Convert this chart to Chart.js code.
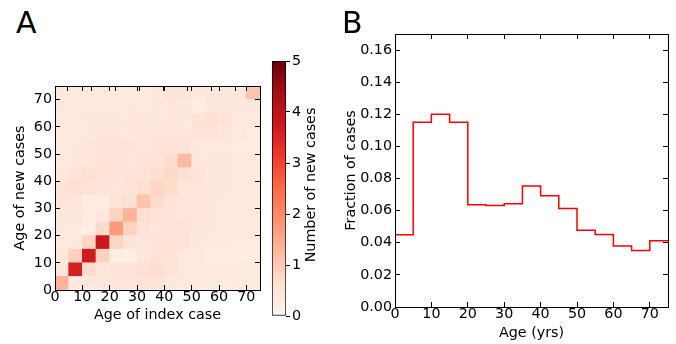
<!DOCTYPE html>
<html>
<head>
<meta charset="utf-8">
<script src="https://cdn.jsdelivr.net/npm/chart.js@4.4.0/dist/chart.umd.min.js"></script>
<style>
  html, body { margin: 0; padding: 0; background: #fff; }
  #wrap { position: relative; width: 676px; height: 344px; overflow: hidden; font-family: "DejaVu Sans", sans-serif; color: #000; }
  canvas { position: absolute; top: 0; }
  #heatmap { z-index: 1; }
  #heatFrame { z-index: 10; }
  .panel-label { position: absolute; font-size: 30px; line-height: 30px; }
  #cbTitle { position: absolute; width: 200px; height: 16px; line-height: 16px; font-size: 14.3px; text-align: center; white-space: nowrap; transform: rotate(-90deg); }
</style>
</head>
<body>
<div id="wrap">
  <canvas id="heatmap" width="270" height="344" style="left:0px"></canvas>
  <canvas id="heatFrame" width="270" height="344" style="left:0px"></canvas>
  <canvas id="colorbar" width="78" height="344" style="left:262px"></canvas>
  <canvas id="histogram" width="336" height="344" style="left:340px"></canvas>
  <div class="panel-label" style="left:16px; top:8px">A</div>
  <div class="panel-label" style="left:342px; top:8px">B</div>
  <div id="cbTitle" style="left:210px; top:177px">Number of new cases</div>
</div>

<script>
// Bordes izquierdos de los grupos de edad (años)
const AGE_BINS = [0, 5, 10, 15, 20, 25, 30, 35, 40, 45, 50, 55, 60, 65, 70];
const AGE_MAX = 75;
const AGE_TICKS = [0, 10, 20, 30, 40, 50, 60, 70];

// Casos nuevos: fila = edad del caso nuevo (0-5 primero), columna = edad del caso índice
const NEW_CASES = [
  [1.35, 0.35, 0.40, 0.40, 0.45, 0.45, 0.50, 0.50, 0.40, 0.35, 0.35, 0.35, 0.30, 0.35, 0.35],
  [0.45, 3.60, 0.70, 0.45, 0.50, 0.55, 0.60, 0.65, 0.55, 0.35, 0.35, 0.35, 0.35, 0.35, 0.35],
  [0.40, 0.90, 3.70, 0.85, 0.25, 0.25, 0.40, 0.55, 0.50, 0.35, 0.35, 0.30, 0.30, 0.30, 0.30],
  [0.35, 0.40, 0.80, 3.75, 0.80, 0.50, 0.45, 0.55, 0.50, 0.50, 0.40, 0.35, 0.35, 0.30, 0.30],
  [0.35, 0.35, 0.30, 0.70, 1.75, 0.85, 0.50, 0.45, 0.50, 0.50, 0.45, 0.40, 0.35, 0.35, 0.35],
  [0.40, 0.40, 0.30, 0.40, 0.85, 1.35, 0.65, 0.50, 0.50, 0.45, 0.45, 0.40, 0.35, 0.35, 0.35],
  [0.45, 0.45, 0.30, 0.30, 0.50, 0.60, 1.10, 0.70, 0.50, 0.45, 0.45, 0.40, 0.35, 0.35, 0.35],
  [0.50, 0.60, 0.55, 0.50, 0.45, 0.50, 0.65, 0.80, 0.70, 0.45, 0.45, 0.40, 0.40, 0.35, 0.35],
  [0.40, 0.55, 0.60, 0.55, 0.50, 0.50, 0.50, 0.65, 0.75, 0.65, 0.50, 0.40, 0.40, 0.35, 0.35],
  [0.35, 0.40, 0.45, 0.50, 0.50, 0.45, 0.50, 0.55, 0.70, 1.25, 0.45, 0.40, 0.40, 0.35, 0.35],
  [0.35, 0.40, 0.45, 0.50, 0.50, 0.50, 0.45, 0.50, 0.55, 0.50, 0.40, 0.35, 0.35, 0.30, 0.30],
  [0.35, 0.35, 0.40, 0.45, 0.45, 0.40, 0.45, 0.45, 0.45, 0.45, 0.50, 0.50, 0.45, 0.35, 0.30],
  [0.35, 0.35, 0.40, 0.40, 0.40, 0.45, 0.40, 0.40, 0.45, 0.40, 0.55, 0.60, 0.50, 0.35, 0.35],
  [0.35, 0.35, 0.35, 0.35, 0.35, 0.40, 0.35, 0.40, 0.45, 0.40, 0.25, 0.40, 0.45, 0.40, 0.40],
  [0.35, 0.35, 0.35, 0.35, 0.35, 0.35, 0.30, 0.40, 0.50, 0.50, 0.40, 0.40, 0.40, 0.40, 1.10],
];
const COUNT_MAX = 5;
const COUNT_TICKS = [0, 1, 2, 3, 4, 5];

// Fracción de casos por grupo de edad
const CASE_FRACTION = [0.045, 0.115, 0.120, 0.115, 0.0636, 0.0632, 0.0643, 0.0753, 0.0693, 0.0613, 0.0478, 0.0451, 0.038, 0.0352, 0.0413];
const FRACTION_MAX = 0.17;
const FRACTION_TICKS = [0, 0.02, 0.04, 0.06, 0.08, 0.10, 0.12, 0.14, 0.16];

// Mapa de color "Reds"
const REDS = ["#fff5f0", "#fee0d2", "#fcbba1", "#fc9272", "#fb6a4a", "#ef3b2c", "#cb181d", "#a50f15", "#67000d"];

Chart.defaults.font.family = "'DejaVu Sans', sans-serif";
Chart.defaults.font.size = 14.3;
Chart.defaults.color = "#000";
Chart.defaults.animation = false;
Chart.defaults.plugins.legend.display = false;
Chart.defaults.plugins.tooltip.enabled = false;

// Interpolar un valor dentro del mapa de color
function redsColor(value) {
  const t = Math.max(0, Math.min(1, value / COUNT_MAX)) * (REDS.length - 1);
  const i = Math.min(Math.floor(t), REDS.length - 2);
  const f = t - i;
  const a = REDS[i], b = REDS[i + 1];
  const rgb = [1, 3, 5].map((k) => {
    const ca = parseInt(a.substr(k, 2), 16);
    const cb = parseInt(b.substr(k, 2), 16);
    return Math.round(ca + (cb - ca) * f);
  });
  return "rgb(" + rgb.join(",") + ")";
}

// Eje con marco negro y marcas hacia adentro (estilo matplotlib)
function frameAxis(position, min, max, tickValues, size, extra) {
  return Object.assign({
    type: "linear",
    position: position,
    min: min,
    max: max,
    afterBuildTicks: (scale) => {
      scale.ticks = tickValues.map((v) => ({ value: v }));
    },
    afterFit: (scale) => {
      if (scale.isHorizontal()) scale.height = size;
      else scale.width = size;
    },
    grid: { drawOnChartArea: false, offset: false, tickLength: -5, color: "#000", tickColor: "#000", tickWidth: 1, z: 1 },
    border: { display: true, color: "#000", width: 1, z: 1 },
    ticks: { display: false },
  }, extra || {});
}

function tickLabels(padding, formatter) {
  return {
    display: true,
    padding: padding,
    autoSkip: false,
    maxRotation: 0,
    callback: formatter || ((v) => v),
  };
}

// Panel A: mapa de calor
const binWidth = AGE_BINS[1] - AGE_BINS[0];
const heatDatasets = NEW_CASES.map((row, j) => ({
  data: row.map((v, i) => ({ x: AGE_BINS[i] + binWidth / 2, y: [AGE_BINS[j], AGE_BINS[j] + binWidth] })),
  backgroundColor: row.map(redsColor),
  borderWidth: 0,
  grouped: false,
  barPercentage: 1,
  categoryPercentage: 1,
}));

new Chart(document.getElementById("heatmap"), {
  type: "bar",
  data: { datasets: heatDatasets },
  options: {
    responsive: false,
    devicePixelRatio: 1,
    scales: {
      x: frameAxis("bottom", 0, AGE_MAX, AGE_TICKS, 54, {
        offset: false,
        ticks: tickLabels(4),
        title: { display: true, text: "Age of index case", padding: { top: 0, bottom: 20 } },
      }),
      x2: frameAxis("top", 0, AGE_MAX, AGE_TICKS, 86),
      y: frameAxis("left", 0, AGE_MAX, AGE_TICKS, 55, {
        ticks: tickLabels(8),
        title: { display: true, text: "Age of new cases", padding: { top: 12, bottom: 0 } },
      }),
      y2: frameAxis("right", 0, AGE_MAX, AGE_TICKS, 10),
    },
  },
});

// Marco y marcas del panel A en un lienzo superpuesto (por encima de las celdas)
new Chart(document.getElementById("heatFrame"), {
  type: "line",
  data: { datasets: [{ data: [], pointRadius: 0 }] },
  options: {
    responsive: false,
    devicePixelRatio: 1,
    scales: {
      x: frameAxis("bottom", 0, AGE_MAX, AGE_TICKS, 54),
      x2: frameAxis("top", 0, AGE_MAX, AGE_TICKS, 86),
      y: frameAxis("left", 0, AGE_MAX, AGE_TICKS, 55),
      y2: frameAxis("right", 0, AGE_MAX, AGE_TICKS, 10),
    },
  },
});

// Barra de color
new Chart(document.getElementById("colorbar"), {
  type: "bar",
  data: {
    labels: [""],
    datasets: [{
      data: [[0, COUNT_MAX]],
      backgroundColor: (ctx) => {
        const chart = ctx.chart;
        if (!chart.chartArea) return REDS[0];
        const y = chart.scales.y;
        const g = chart.ctx.createLinearGradient(0, y.getPixelForValue(0), 0, y.getPixelForValue(COUNT_MAX));
        REDS.forEach((c, i) => g.addColorStop(i / (REDS.length - 1), c));
        return g;
      },
      borderColor: "#000",
      borderWidth: 1,
      borderSkipped: false,
      barPercentage: 1,
      categoryPercentage: 1,
    }],
  },
  options: {
    responsive: false,
    devicePixelRatio: 1,
    layout: { padding: { left: 10, top: 61, bottom: 28, right: 0 } },
    scales: {
      x: { display: false },
      y: {
        position: "right",
        min: 0,
        max: COUNT_MAX,
        afterBuildTicks: (scale) => {
          scale.ticks = COUNT_TICKS.map((v) => ({ value: v }));
        },
        afterFit: (scale) => { scale.width = 54; },
        grid: { drawOnChartArea: false, tickLength: 4, tickColor: "#000", tickWidth: 1 },
        border: { display: false },
        ticks: { padding: 2 },
      },
    },
  },
});

// Panel B: histograma escalonado
const stepPoints = AGE_BINS.map((edge, i) => ({ x: edge, y: CASE_FRACTION[i] }));
stepPoints.push({ x: AGE_MAX, y: CASE_FRACTION[CASE_FRACTION.length - 1] });

new Chart(document.getElementById("histogram"), {
  type: "line",
  data: {
    datasets: [{
      data: stepPoints,
      stepped: true,
      borderColor: "#ff0000",
      borderWidth: 1.5,
      pointRadius: 0,
      fill: false,
    }],
  },
  options: {
    responsive: false,
    devicePixelRatio: 1,
    scales: {
      x: frameAxis("bottom", 0, AGE_MAX, AGE_TICKS, 37, {
        ticks: tickLabels(4),
        title: { display: true, text: "Age (yrs)", padding: { top: 0, bottom: 2 } },
      }),
      x2: frameAxis("top", 0, AGE_MAX, AGE_TICKS, 34),
      y: frameAxis("left", 0, FRACTION_MAX, FRACTION_TICKS, 55, {
        ticks: tickLabels(8, (v) => v.toFixed(2)),
        title: { display: true, text: "Fraction of cases", padding: { top: 3, bottom: 0 } },
      }),
      y2: frameAxis("right", 0, FRACTION_MAX, FRACTION_TICKS, 8),
    },
  },
});
</script>
</body>
</html>
